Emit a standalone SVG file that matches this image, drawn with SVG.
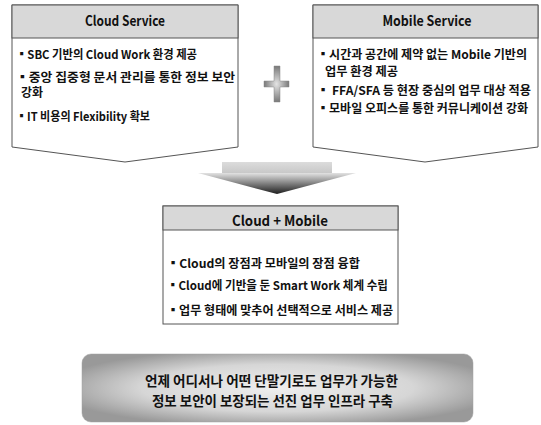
<svg xmlns="http://www.w3.org/2000/svg" width="541" height="425" viewBox="0 0 541 425">
<style>
  .box { fill: #ffffff; stroke: #555555; stroke-width: 1; }
  .hdr { fill: #d8d8d8; stroke: #555555; stroke-width: 1; }
  .t { font-family: "Noto Sans CJK KR", "Noto Sans", sans-serif; font-weight: 700; font-size: 12px; fill: #111111; }
  .h { font-family: "Noto Sans CJK KR", "Noto Sans", sans-serif; font-weight: 700; font-size: 14px; fill: #111111; text-anchor: middle; }
  .b { font-family: "Noto Sans CJK KR", "Noto Sans", sans-serif; font-weight: 700; font-size: 14px; fill: #111111; text-anchor: middle; }
</style>
<defs>
  <radialGradient id="gPlus" cx="50%" cy="50%" r="55%">
    <stop offset="0" stop-color="#e4e4e4"/>
    <stop offset="1" stop-color="#6e6e6e"/>
  </radialGradient>
  <linearGradient id="gRect" x1="0" y1="0" x2="0" y2="1">
    <stop offset="0" stop-color="#dcdcdc"/>
    <stop offset="1" stop-color="#c8c8c8"/>
  </linearGradient>
  <linearGradient id="gTri" x1="0" y1="0" x2="0" y2="1">
    <stop offset="0" stop-color="#e2e2e2"/>
    <stop offset="1" stop-color="#1e1e1e"/>
  </linearGradient>
  <radialGradient id="gBottom" cx="50%" cy="50%" r="58%">
    <stop offset="0" stop-color="#efefef"/>
    <stop offset="0.6" stop-color="#d6d6d6"/>
    <stop offset="1" stop-color="#999999"/>
  </radialGradient>
</defs>

<g id="cloud-service">
  <path class="box" d="M12,5 H238 V147 L125,162 L12,147 Z"/>
  <rect class="hdr" x="12" y="5" width="226" height="33"/>
  <text class="h" x="125" y="26" textLength="80" lengthAdjust="spacingAndGlyphs">Cloud Service</text>
  <text class="t" x="16" y="58.5" textLength="181" lengthAdjust="spacingAndGlyphs">▪SBC 기반의 Cloud Work 환경 제공</text>
  <text class="t" x="16" y="81.5" textLength="219" lengthAdjust="spacingAndGlyphs">▪중앙 집중형 문서 관리를 통한 정보 보안</text>
  <text class="t" x="21" y="96.5" textLength="22" lengthAdjust="spacingAndGlyphs">강화</text>
  <text class="t" x="16" y="120.5" textLength="134" lengthAdjust="spacingAndGlyphs">▪IT 비용의 Flexibility 확보</text>
</g>

<g id="mobile-service">
  <path class="box" d="M313,5 H538 V147 L425,162 L313,147 Z"/>
  <rect class="hdr" x="313" y="5" width="225" height="33"/>
  <text class="h" x="427" y="26" textLength="89" lengthAdjust="spacingAndGlyphs">Mobile Service</text>
  <text class="t" x="317" y="58.5" textLength="210" lengthAdjust="spacingAndGlyphs">▪시간과 공간에 제약 없는 Mobile 기반의</text>
  <text class="t" x="325" y="75.5" textLength="73" lengthAdjust="spacingAndGlyphs">업무 환경 제공</text>
  <text class="t" x="317" y="94.5" textLength="214" lengthAdjust="spacingAndGlyphs">▪ FFA/SFA 등 현장 중심의 업무 대상 적용</text>
  <text class="t" x="317" y="112.5" textLength="211" lengthAdjust="spacingAndGlyphs">▪모바일 오피스를 통한 커뮤니케이션 강화</text>
</g>

<g id="connectors">
  <path fill="url(#gPlus)" stroke="#8a8a8a" stroke-width="0.5" d="M274,66 H280 V81 H289 V87 H280 V102 H274 V87 H264 V81 H274 Z"/>
  <rect x="222" y="162" width="110" height="11" fill="url(#gRect)"/>
  <polygon points="198,173 356,173 277,194" fill="url(#gTri)"/>
</g>

<g id="cloud-mobile">
  <rect class="box" x="163" y="206" width="235" height="118"/>
  <rect class="hdr" x="163" y="206" width="235" height="24"/>
  <text class="h" x="280" y="226" textLength="96" lengthAdjust="spacingAndGlyphs">Cloud + Mobile</text>
  <text class="t" x="167" y="267.5" textLength="193" lengthAdjust="spacingAndGlyphs">▪Cloud의 장점과 모바일의 장점 융합</text>
  <text class="t" x="167" y="289.5" textLength="221" lengthAdjust="spacingAndGlyphs">▪Cloud에 기반을 둔 Smart Work 체계 수립</text>
  <text class="t" x="167" y="314.5" textLength="226" lengthAdjust="spacingAndGlyphs">▪업무 형태에 맞추어 선택적으로 서비스 제공</text>
</g>

<g id="goal">
  <rect x="82" y="354" width="391" height="68" rx="9" ry="9" fill="url(#gBottom)" stroke="#a0a0a0" stroke-width="0.5"/>
  <text class="b" x="271.5" y="386" textLength="253" lengthAdjust="spacingAndGlyphs">언제 어디서나 어떤 단말기로도 업무가 가능한</text>
  <text class="b" x="272.5" y="406" textLength="241" lengthAdjust="spacingAndGlyphs">정보 보안이 보장되는 선진 업무 인프라 구축</text>
</g>
</svg>
